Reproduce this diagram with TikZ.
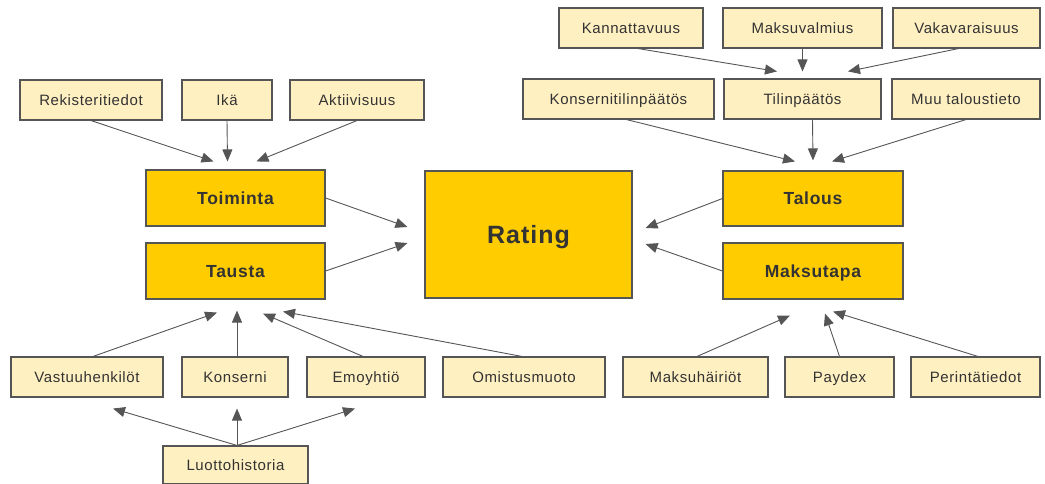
\documentclass[tikz,border=0pt]{standalone}
\usepackage{fontspec}
\setmainfont[LetterSpace=4]{Liberation Sans}
\usetikzlibrary{arrows.meta}

\definecolor{boxlight}{HTML}{FFF0C2}
\definecolor{boxdark}{HTML}{FFCC00}
\definecolor{edgegray}{HTML}{555555}
\definecolor{textgray}{HTML}{333333}

\tikzset{
  infobox/.style={draw=edgegray, line width=1.1pt, fill=boxlight, text=textgray,
    minimum height=40pt, inner sep=0pt, text height=13pt, text depth=2.3pt,
    font=\fontsize{15}{17}\selectfont},
  mainbox/.style={draw=edgegray, line width=1.1pt, fill=boxdark, text=textgray,
    minimum height=56pt, inner sep=0pt, text height=15pt, text depth=2.5pt,
    font=\bfseries\fontsize{17.5}{20}\selectfont},
  arr/.style={draw=edgegray, line width=0.9pt,
    -{Triangle[length=12pt,width=10pt]}},
}

\begin{document}
\begin{tikzpicture}[x=1pt,y=-1pt]
\useasboundingbox (0,0) rectangle (1045,484);

% Toiminta ja Tausta
\node[infobox, minimum width=142pt] (rek) at (91,100) {Rekisteritiedot};
\node[infobox, minimum width=90pt] (ika) at (227,100) {Ikä};
\node[infobox, minimum width=134pt] (akt) at (357,100) {Aktiivisuus};
\node[mainbox, minimum width=179pt] (toim) at (235.5,198) {Toiminta};
\node[mainbox, minimum width=179pt] (taus) at (235.5,271) {Tausta};

% Rating
\node[mainbox, minimum width=207pt, minimum height=127pt, text height=21pt, text depth=3.1pt,
  font=\bfseries\fontsize{25}{28}\selectfont] (rating) at (528.5,234.5) {Rating};

% Talous ja Maksutapa
\node[mainbox, minimum width=180pt, minimum height=55pt] (talous) at (813,198.5) {Talous};
\node[mainbox, minimum width=180pt] (maksu) at (813,271) {Maksutapa};

\node[infobox, minimum width=144pt] (kann) at (631,28) {Kannattavuus};
\node[infobox, minimum width=159pt] (mval) at (802.5,28) {Maksuvalmius};
\node[infobox, minimum width=147pt] (vaka) at (966.5,28) {Vakavaraisuus};
\node[infobox, minimum width=191pt] (ktp) at (618.5,99) {Konsernitilinpäätös};
\node[infobox, minimum width=157pt] (tilp) at (802.5,99) {Tilinpäätös};
\node[infobox, minimum width=148pt] (muu) at (966,99) {Muu taloustieto};

% alarivi
\node[infobox, minimum width=152pt] (vastuu) at (87,377) {Vastuuhenkilöt};
\node[infobox, minimum width=106pt] (kons) at (235,377) {Konserni};
\node[infobox, minimum width=118pt] (emo) at (366,377) {Emoyhtiö};
\node[infobox, minimum width=162pt] (omist) at (524,377) {Omistusmuoto};
\node[infobox, minimum width=145pt, minimum height=38pt] (luotto) at (235.5,465) {Luottohistoria};

\node[infobox, minimum width=145pt] (mhair) at (695.5,377) {Maksuhäiriöt};
\node[infobox, minimum width=109pt] (paydex) at (839.5,377) {Paydex};
\node[infobox, minimum width=129pt] (perint) at (975.5,377) {Perintätiedot};

% nuolet
\draw[arr] (rek.south) -- ([xshift=-22pt,yshift=8pt]toim.north);
\draw[arr] (ika.south) -- ([xshift=-8pt,yshift=8pt]toim.north);
\draw[arr] (akt.south) -- ([xshift=21pt,yshift=8pt]toim.north);
\draw[arr] (toim.east) -- ([xshift=-17pt,yshift=7.5pt]rating.west);
\draw[arr] (taus.east) -- ([xshift=-17pt,yshift=-8.5pt]rating.west);

\draw[arr] ([xshift=7pt]kann.south) -- ([xshift=-25.5pt,yshift=7pt]tilp.north);
\draw[arr] (mval.south) -- ([yshift=7pt]tilp.north);
\draw[arr] ([xshift=-8pt]vaka.south) -- ([xshift=45.5pt,yshift=7pt]tilp.north);
\draw[arr] ([xshift=8pt]ktp.south) -- ([xshift=-18pt,yshift=9pt]talous.north);
\draw[arr] ([xshift=10pt]tilp.south) -- ([yshift=10pt]talous.north);
\draw[arr] (muu.south) -- ([xshift=19pt,yshift=9pt]talous.north);
\draw[arr] (talous.west) -- ([xshift=13pt,yshift=6.5pt]rating.east);
\draw[arr] (maksu.west) -- ([xshift=13pt,yshift=-9.5pt]rating.east);

\draw[arr] ([xshift=6pt]vastuu.north) -- ([xshift=-18.5pt,yshift=-13pt]taus.south);
\draw[arr] ([xshift=2pt]kons.north) -- ([xshift=1.5pt,yshift=-11pt]taus.south);
\draw[arr] ([xshift=-3pt]emo.north) -- ([xshift=27.5pt,yshift=-14pt]taus.south);
\draw[arr] ([xshift=-2pt]omist.north) -- ([xshift=47.5pt,yshift=-12pt]taus.south);
\draw[arr] ([xshift=1.5pt]luotto.north) -- ([xshift=26pt,yshift=-11pt]vastuu.south);
\draw[arr] ([xshift=1.5pt]luotto.north) -- ([xshift=2pt,yshift=-11pt]kons.south);
\draw[arr] ([xshift=1.5pt]luotto.north) -- ([xshift=-11pt,yshift=-11pt]emo.south);

\draw[arr] ([xshift=1.5pt]mhair.north) -- ([xshift=-23pt,yshift=-16pt]maksu.south);
\draw[arr] (paydex.north) -- ([xshift=12pt,yshift=-14pt]maksu.south);
\draw[arr] ([xshift=2.5pt]perint.north) -- ([xshift=20pt,yshift=-12pt]maksu.south);
\end{tikzpicture}
\end{document}
